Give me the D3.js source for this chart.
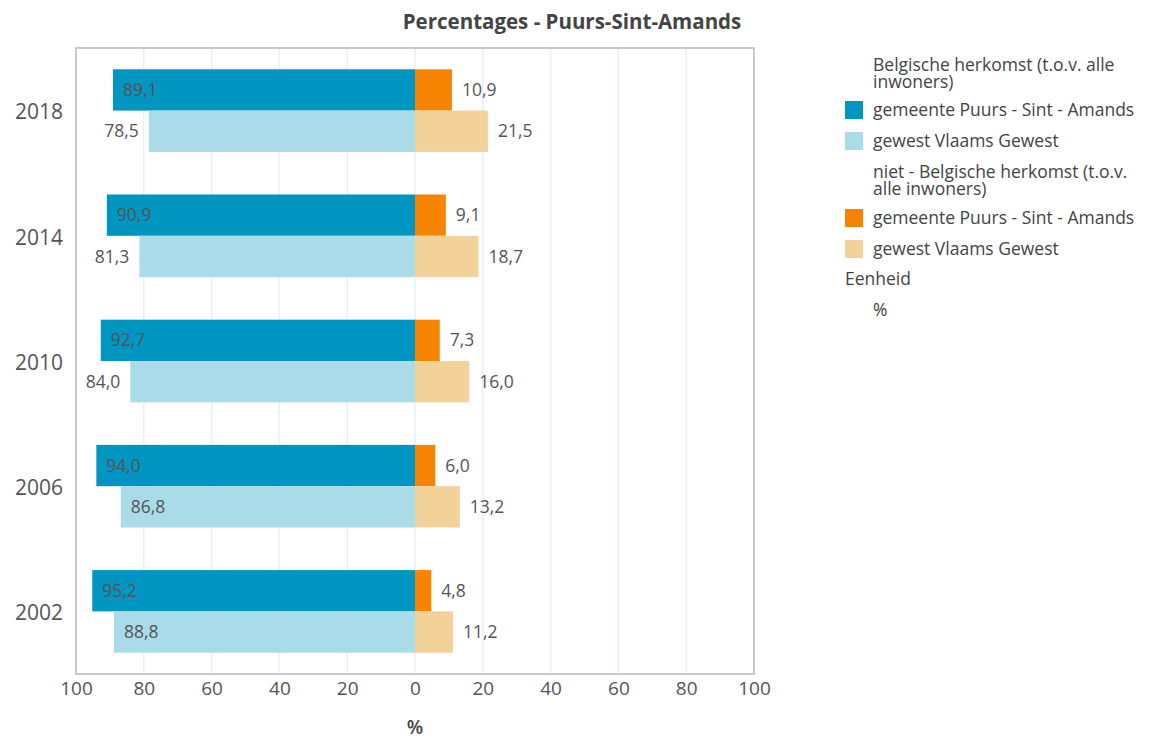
<!DOCTYPE html>
<html>
<head>
<meta charset="utf-8">
<script src="https://cdn.jsdelivr.net/npm/d3@7"></script>
<style>
  html, body { margin: 0; padding: 0; background: #fff; }
  svg { display: block; font-family: "Open Sans", "Noto Sans", sans-serif; }
</style>
</head>
<body>
<svg id="chart" width="1152" height="740"></svg>
<script>
// Herkomst van de inwoners, Puurs-Sint-Amands vs Vlaams Gewest
const years = ["2018", "2014", "2010", "2006", "2002"];
const belgGemeente = [89.1, 90.9, 92.7, 94.0, 95.2];
const belgGewest   = [78.5, 81.3, 84.0, 86.8, 88.8];
const nietGemeente = [10.9, 9.1, 7.3, 6.0, 4.8];
const nietGewest   = [21.5, 18.7, 16.0, 13.2, 11.2];
const xTicks = [-100, -80, -60, -40, -20, 0, 20, 40, 60, 80, 100];
const areas = ["gemeente", "gewest"];

const colors = {
  belg: { gemeente: "#0096c1", gewest: "#a9dbe9" },
  niet: { gemeente: "#f78400", gewest: "#f2d298" }
};

const svg = d3.select("#chart");
const plot = { left: 76, right: 754, top: 48, bottom: 674 };

const x = d3.scaleLinear().domain([-100, 100]).range([plot.left, plot.right]);
const y = d3.scaleBand().domain(years).range([plot.top, plot.bottom])
  .paddingInner(0.34).paddingOuter(0.17);
const ySub = d3.scaleBand().domain(areas).range([0, y.bandwidth()]);

const fmt = v => d3.format(".1f")(v).replace(".", ",");

// grid
svg.append("g").selectAll("line")
  .data(xTicks.filter(t => t !== -100 && t !== 100))
  .join("line")
  .attr("x1", d => x(d)).attr("x2", d => x(d))
  .attr("y1", plot.top).attr("y2", plot.bottom)
  .attr("stroke", "#e3f2f8").attr("stroke-width", 1.5);

// frame
svg.append("rect")
  .attr("x", plot.left).attr("y", plot.top)
  .attr("width", plot.right - plot.left).attr("height", plot.bottom - plot.top)
  .attr("fill", "none").attr("stroke", "#b5b9bb").attr("stroke-width", 1.5);

// bar rows
const rows = [];
years.forEach((yr, i) => {
  rows.push({ year: yr, area: "gemeente", belg: belgGemeente[i], niet: nietGemeente[i] });
  rows.push({ year: yr, area: "gewest", belg: belgGewest[i], niet: nietGewest[i] });
});

const bars = svg.append("g");
bars.selectAll("rect.belg").data(rows).join("rect")
  .attr("class", "belg")
  .attr("x", d => x(-d.belg))
  .attr("y", d => y(d.year) + ySub(d.area))
  .attr("width", d => x(0) - x(-d.belg))
  .attr("height", ySub.bandwidth())
  .attr("fill", d => colors.belg[d.area]);

bars.selectAll("rect.niet").data(rows).join("rect")
  .attr("class", "niet")
  .attr("x", x(0))
  .attr("y", d => y(d.year) + ySub(d.area))
  .attr("width", d => x(d.niet) - x(0))
  .attr("height", ySub.bandwidth())
  .attr("fill", d => colors.niet[d.area]);

// value labels
const labelSize = 17.5;
const labelPad = 10;
const labels = svg.append("g")
  .attr("font-size", labelSize).attr("fill", "#555");

labels.selectAll("text.belg").data(rows).join("text")
  .attr("class", "belg")
  .attr("y", d => y(d.year) + ySub(d.area) + ySub.bandwidth() / 2)
  .attr("dy", "0.35em")
  .text(d => fmt(d.belg))
  .each(function (d) {
    const w = this.getComputedTextLength();
    const barLeft = x(-d.belg);
    // put the label outside the bar when it fits between frame and bar
    const outside = barLeft - plot.left > w + labelPad + 5;
    d3.select(this)
      .attr("x", outside ? barLeft - labelPad : barLeft + labelPad)
      .attr("text-anchor", outside ? "end" : "start");
  });

labels.selectAll("text.niet").data(rows).join("text")
  .attr("class", "niet")
  .attr("x", d => x(d.niet) + labelPad)
  .attr("y", d => y(d.year) + ySub(d.area) + ySub.bandwidth() / 2)
  .attr("dy", "0.35em")
  .text(d => fmt(d.niet));

// x axis
const xAxis = svg.append("g")
  .attr("transform", `translate(0,${plot.bottom})`)
  .call(d3.axisBottom(x).tickValues(xTicks).tickSize(0).tickPadding(8)
    .tickFormat(d => Math.abs(d)));
xAxis.select(".domain").remove();
xAxis.selectAll("text").attr("font-size", 19).attr("fill", "#555")
  .attr("font-family", "Open Sans, sans-serif");

// y axis
const yAxis = svg.append("g")
  .attr("transform", `translate(${plot.left},0)`)
  .call(d3.axisLeft(y).tickSize(0).tickPadding(13));
yAxis.select(".domain").remove();
yAxis.selectAll("text").attr("font-size", 21).attr("fill", "#555")
  .attr("dy", "0.42em")
  .attr("font-family", "Open Sans, sans-serif");

// axis title
svg.append("text")
  .attr("x", x(0)).attr("y", 734)
  .attr("text-anchor", "middle")
  .attr("font-size", 19).attr("font-weight", 600).attr("fill", "#444")
  .text("%");

// title
svg.append("text")
  .attr("x", 572).attr("y", 29)
  .attr("text-anchor", "middle")
  .attr("font-size", 20.5).attr("font-weight", "bold").attr("fill", "#444")
  .text("Percentages - Puurs-Sint-Amands");

// legend
const legendItems = [
  { type: "head", lines: ["Belgische herkomst (t.o.v. alle", "inwoners)"], y: 73.5 },
  { type: "item", color: colors.belg.gemeente, text: "gemeente Puurs - Sint - Amands", y: 110 },
  { type: "item", color: colors.belg.gewest, text: "gewest Vlaams Gewest", y: 141 },
  { type: "head", lines: ["niet - Belgische herkomst (t.o.v.", "alle inwoners)"], y: 180.5 },
  { type: "item", color: colors.niet.gemeente, text: "gemeente Puurs - Sint - Amands", y: 218 },
  { type: "item", color: colors.niet.gewest, text: "gewest Vlaams Gewest", y: 249 },
  { type: "unit", text: "Eenheid", y: 279 },
  { type: "head", lines: ["%"], y: 310 }
];
const legend = svg.append("g").attr("font-size", 17.5).attr("fill", "#444");
const lx = 845, tx = 873, lineH = 17;
legendItems.forEach(it => {
  if (it.type === "item") {
    legend.append("rect").attr("x", lx).attr("y", it.y - 9)
      .attr("width", 18).attr("height", 18).attr("fill", it.color);
    legend.append("text").attr("x", tx).attr("y", it.y).attr("dy", "0.35em").text(it.text);
  } else if (it.type === "unit") {
    legend.append("text").attr("x", lx).attr("y", it.y).attr("dy", "0.35em").text(it.text);
  } else {
    // multi-line group header as one text block
    const n = it.lines.length;
    const t = legend.append("text").attr("x", tx)
      .attr("y", it.y - (n - 1) / 2 * lineH).attr("dy", "0.35em");
    it.lines.forEach((ln, k) => {
      t.append("tspan").attr("x", tx)
        .attr("dy", k === 0 ? null : lineH)
        .text(ln);
    });
  }
});
</script>
</body>
</html>
